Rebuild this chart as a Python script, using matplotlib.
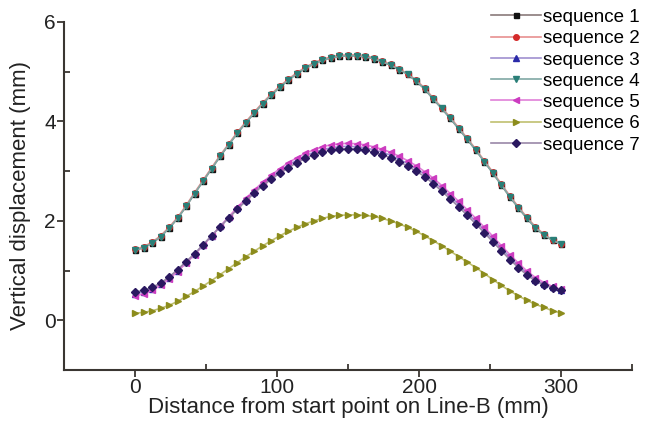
import matplotlib
matplotlib.use('Agg')
import matplotlib.pyplot as plt
import numpy as np
from matplotlib.ticker import MultipleLocator

plt.rcParams['font.family'] = ['Liberation Sans', 'DejaVu Sans']

# distance along Line-B (mm), one point every 6 mm
distance = list(range(0, 301, 6))

# (mm)
seq1 = [1.41, 1.46, 1.55, 1.68, 1.85, 2.05, 2.29, 2.55, 2.80, 3.05, 3.30, 3.53, 3.76, 3.97, 4.17, 4.36, 4.53,
        4.69, 4.83, 4.96, 5.07, 5.16, 5.23, 5.28, 5.31, 5.32, 5.32, 5.30, 5.26, 5.20, 5.13, 5.04, 4.95, 4.81,
        4.65, 4.45, 4.26, 4.06, 3.85, 3.64, 3.42, 3.19, 2.96, 2.72, 2.48, 2.26, 2.05, 1.86, 1.71, 1.61, 1.53]
seq2 = [1.43, 1.48, 1.57, 1.70, 1.87, 2.07, 2.31, 2.57, 2.82, 3.07, 3.32, 3.55, 3.78, 3.99, 4.19, 4.38, 4.55,
        4.71, 4.85, 4.98, 5.09, 5.18, 5.25, 5.30, 5.33, 5.34, 5.34, 5.32, 5.28, 5.22, 5.15, 5.06, 4.96, 4.83,
        4.67, 4.47, 4.28, 4.08, 3.87, 3.66, 3.44, 3.21, 2.98, 2.74, 2.50, 2.28, 2.07, 1.88, 1.73, 1.62, 1.54]
seq3 = [0.53, 0.57, 0.63, 0.73, 0.85, 1.00, 1.17, 1.33, 1.52, 1.70, 1.89, 2.07, 2.25, 2.42, 2.59, 2.74, 2.88,
        3.00, 3.12, 3.22, 3.31, 3.38, 3.43, 3.47, 3.49, 3.50, 3.49, 3.47, 3.43, 3.38, 3.32, 3.24, 3.15, 3.05,
        2.94, 2.80, 2.65, 2.49, 2.33, 2.16, 1.99, 1.81, 1.63, 1.45, 1.27, 1.10, 0.95, 0.82, 0.73, 0.66, 0.61]
seq4 = [1.41, 1.46, 1.55, 1.68, 1.85, 2.05, 2.29, 2.55, 2.80, 3.05, 3.30, 3.53, 3.76, 3.97, 4.17, 4.36, 4.53,
        4.69, 4.83, 4.96, 5.07, 5.16, 5.23, 5.28, 5.31, 5.32, 5.32, 5.30, 5.26, 5.20, 5.13, 5.04, 4.95, 4.81,
        4.65, 4.45, 4.26, 4.06, 3.85, 3.64, 3.42, 3.19, 2.96, 2.72, 2.48, 2.26, 2.05, 1.86, 1.71, 1.61, 1.53]
seq5 = [0.49, 0.53, 0.60, 0.70, 0.83, 0.98, 1.15, 1.32, 1.51, 1.70, 1.89, 2.08, 2.27, 2.45, 2.62, 2.78, 2.92,
        3.05, 3.17, 3.27, 3.36, 3.43, 3.49, 3.53, 3.55, 3.56, 3.55, 3.53, 3.49, 3.44, 3.38, 3.30, 3.21, 3.11,
        2.99, 2.86, 2.71, 2.55, 2.39, 2.22, 2.05, 1.87, 1.69, 1.50, 1.32, 1.15, 0.99, 0.86, 0.76, 0.68, 0.62]
seq6 = [0.14, 0.16, 0.19, 0.24, 0.30, 0.38, 0.48, 0.58, 0.69, 0.80, 0.92, 1.04, 1.16, 1.28, 1.39, 1.50, 1.60,
        1.70, 1.79, 1.87, 1.94, 2.00, 2.05, 2.09, 2.11, 2.12, 2.12, 2.11, 2.09, 2.05, 2.00, 1.94, 1.87, 1.79,
        1.70, 1.60, 1.50, 1.39, 1.28, 1.17, 1.06, 0.94, 0.82, 0.70, 0.59, 0.49, 0.40, 0.32, 0.26, 0.19, 0.15]
seq7 = [0.57, 0.60, 0.66, 0.75, 0.87, 1.02, 1.18, 1.34, 1.52, 1.70, 1.88, 2.06, 2.23, 2.40, 2.56, 2.71, 2.84,
        2.96, 3.07, 3.17, 3.26, 3.33, 3.38, 3.42, 3.44, 3.45, 3.44, 3.42, 3.38, 3.33, 3.27, 3.19, 3.10, 3.00,
        2.89, 2.75, 2.60, 2.44, 2.28, 2.11, 1.94, 1.76, 1.58, 1.40, 1.22, 1.06, 0.91, 0.79, 0.71, 0.65, 0.60]

labels = ['sequence 1', 'sequence 2', 'sequence 3', 'sequence 4', 'sequence 5', 'sequence 6', 'sequence 7']
series = [seq1, seq2, seq3, seq4, seq5, seq6, seq7]
markers = ['s', 'o', '^', 'v', '<', '>', 'D']
marker_colors = ['#111111', '#d42a2a', '#2a2aa8', '#2a7f78', '#cc3cc0', '#8c8c1c', '#2a1860']
line_colors = ['#8a7a7a', '#e89090', '#a090d0', '#80a8a4', '#e080d8', '#c0c070', '#9a88a8']
marker_sizes = [3.6, 4.0, 4.4, 4.4, 4.4, 4.4, 3.8]

fig = plt.figure(figsize=(6.57, 4.23), dpi=100)
ax = fig.add_axes([0.0974, 0.1253, 0.8646, 0.8227])

for ys, lab, m, mc, lc, ms in zip(series, labels, markers, marker_colors, line_colors, marker_sizes):
    ax.plot(distance, ys, color=lc, linewidth=1.2, marker=m, markersize=ms,
            markerfacecolor=mc, markeredgecolor=mc, label=lab)

ax.set_xlim(-50, 350)
ax.set_ylim(-1, 6)
ax.xaxis.set_major_locator(MultipleLocator(100))
ax.xaxis.set_minor_locator(MultipleLocator(50))
ax.yaxis.set_major_locator(MultipleLocator(2))
ax.yaxis.set_minor_locator(MultipleLocator(1))

for side in ['top', 'right']:
    ax.spines[side].set_visible(False)
for side in ['left', 'bottom']:
    ax.spines[side].set_color('#3a3632')
    ax.spines[side].set_linewidth(1.5)

ax.tick_params(which='major', direction='out', length=5, width=1.3, color='#3a3632',
               labelsize=15, labelcolor='#222222', pad=1)
ax.tick_params(which='minor', direction='in', length=4, width=1.3, color='#3a3632')

ax.set_xlabel('Distance from start point on Line-B (mm)', fontsize=16, color='#222222', labelpad=0)
ax.set_ylabel('Vertical displacement (mm)', fontsize=16, color='#222222', labelpad=9)

ax.legend(loc='upper left', bbox_to_anchor=(0.727, 1.01), bbox_transform=fig.transFigure,
          frameon=False, fontsize=13.5, handlelength=2.7, handletextpad=0.1,
          labelspacing=0.22, borderpad=0.2)

fig.savefig('out.png', dpi=100)
